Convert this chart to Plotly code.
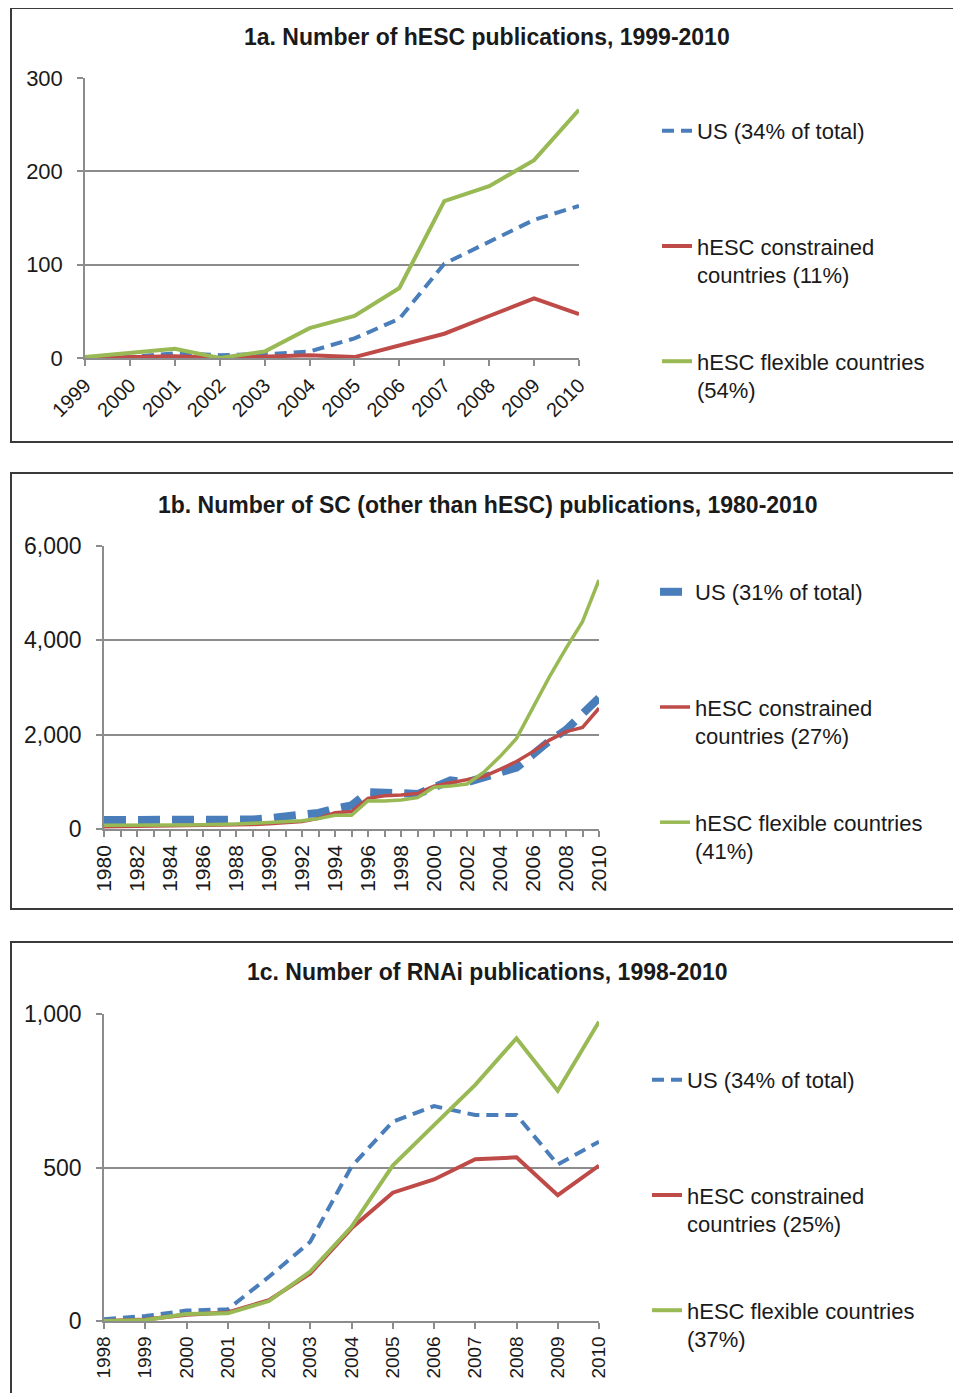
import plotly.graph_objects as go

# ---------------- data ----------------
years_a = list(range(1999, 2011))
us_a = [0, 1, 5, 3, 4, 7, 21, 42, 101, 124, 148, 163]
con_a = [0, 1, 2, 0, 1, 3, 1, 14, 26, 45, 64, 47]
flex_a = [1, 5, 10, 0, 7, 32, 45, 75, 168, 184, 212, 266]

years_b = list(range(1980, 2011))
us_b = [190, 190, 180, 180, 180, 175, 170, 170, 195, 200, 230, 260, 280, 340, 430, 500,
        780, 790, 760, 740, 870, 1030, 990, 1100, 1180, 1300, 1580, 1870, 2100, 2420, 2780]
con_b = [50, 55, 55, 60, 60, 65, 70, 75, 80, 95, 110, 130, 160, 225, 345, 370,
         650, 705, 720, 755, 910, 980, 1040, 1110, 1265, 1430, 1640, 1885, 2065, 2155, 2560]
flex_b = [80, 80, 75, 70, 75, 85, 90, 90, 105, 120, 135, 150, 175, 220, 290, 290,
          600, 595, 615, 665, 885, 910, 955, 1200, 1535, 1920, 2560, 3230, 3830, 4395, 5280]

years_c = list(range(1998, 2011))
us_c = [6, 16, 34, 38, 144, 258, 503, 649, 700, 671, 671, 510, 584]
con_c = [0, 5, 20, 28, 68, 155, 302, 418, 461, 527, 533, 410, 506]
flex_c = [0, 3, 23, 25, 65, 161, 307, 506, 638, 769, 921, 750, 975]

titles = ["1a. Number of hESC publications, 1999-2010",
          "1b. Number of SC (other than hESC) publications, 1980-2010",
          "1c. Number of RNAi publications, 1998-2010"]
names_a = ["US (34% of total)", "hESC constrained<br>countries (11%)", "hESC flexible countries<br>(54%)"]
names_b = ["US (31% of total)", "hESC constrained<br>countries (27%)", "hESC flexible countries<br>(41%)"]
names_c = ["US (34% of total)", "hESC constrained<br>countries (25%)", "hESC flexible countries<br>(37%)"]

# ---------------- style ----------------
W, H = 961, 1393
OFF = 8  # the page body margin shifts the whole figure by this many pixels
BLUE, RED, GREEN = "#4A7EBB", "#BE4B48", "#98B954"
GRID = "#8C8C8C"
FONT = "Liberation Sans, Arial, sans-serif"
TXT = "#1a1a1a"


def px(x):
    return (x - OFF) / W


def py(y):
    return 1 - (y - OFF) / H


fig = go.Figure()

panels = [
    dict(years=years_a, us=us_a, con=con_a, flex=flex_a, names=names_a, sfx="",
         us_w=4, us_dash="12px,7px", w=4),
    dict(years=years_b, us=us_b, con=con_b, flex=flex_b, names=names_b, sfx="2",
         us_w=8, us_dash="22px,12px", w=3.5),
    dict(years=years_c, us=us_c, con=con_c, flex=flex_c, names=names_c, sfx="3",
         us_w=4, us_dash="12px,7px", w=4),
]

for p in panels:
    xa = "x" + p["sfx"]
    ya = "y" + p["sfx"]
    lg = "legend" + p["sfx"]
    series = [(p["us"], p["names"][0] + "<br>\u00a0", BLUE, p["us_w"], p["us_dash"]),
              (p["con"], p["names"][1], RED, p["w"], "solid"),
              (p["flex"], p["names"][2], GREEN, p["w"], "solid")]
    for i, (vals, name, col, w, dash) in enumerate(series):
        fig.add_trace(go.Scatter(
            x=p["years"], y=vals, name=name, mode="lines",
            line=dict(color=col, width=w, dash=dash),
            xaxis=xa, yaxis=ya, legend=lg, legendgroup=lg + str(i),
        ))

axis_common = dict(showline=True, linecolor=GRID, linewidth=1.5, ticks="outside",
                   ticklen=6, tickcolor=GRID, tickwidth=1.5, zeroline=False,
                   automargin=False, tickfont=dict(family=FONT, color=TXT))
yextra = dict(showgrid=True, gridcolor=GRID, gridwidth=1.5, ticklabelstandoff=10)

fig.update_layout(
    template="none",
    width=W, height=H, margin=dict(l=0, r=0, t=0, b=0, pad=0), autosize=False,
    paper_bgcolor="white", plot_bgcolor="white",
    font=dict(family=FONT, color=TXT),
    xaxis=dict(**axis_common, domain=[px(85), px(579)], anchor="y", range=[1999, 2010],
               tickmode="linear", tick0=1999, dtick=1, tickangle=-45, showgrid=False),
    yaxis=dict(**axis_common, **yextra, domain=[py(358), py(78)], anchor="x",
               range=[0, 300], dtick=100),
    xaxis2=dict(**axis_common, domain=[px(104), px(599)], anchor="y2", range=[1980, 2010],
                tickmode="linear", tick0=1980, dtick=2, tickangle=-90, showgrid=False,
                minor=dict(dtick=1, ticks="outside", ticklen=6, tickcolor=GRID, tickwidth=1.5,
                           showgrid=False)),
    yaxis2=dict(**axis_common, **yextra, domain=[py(829), py(546)], anchor="x2",
                range=[0, 6000], dtick=2000, tickformat=",d"),
    xaxis3=dict(**axis_common, domain=[px(104), px(599)], anchor="y3", range=[1998, 2010],
                tickmode="linear", tick0=1998, dtick=1, tickangle=-90, showgrid=False),
    yaxis3=dict(**axis_common, **yextra, domain=[py(1321), py(1014)], anchor="x3",
                range=[0, 1000], dtick=500, tickformat=",d"),
)
fig.layout.xaxis.tickfont.size = 20
fig.layout.yaxis.tickfont.size = 22
fig.layout.xaxis2.tickfont.size = 21
fig.layout.yaxis2.tickfont.size = 23
fig.layout.xaxis3.tickfont.size = 19
fig.layout.yaxis3.tickfont.size = 23

legend_common = dict(xanchor="left", yanchor="top", tracegroupgap=55, valign="top",
                     bgcolor="rgba(0,0,0,0)", borderwidth=0,
                     font=dict(family=FONT, size=22, color=TXT))
fig.update_layout(
    legend=dict(**legend_common, x=px(657), y=py(110)),
    legend2=dict(**legend_common, x=px(655), y=py(571)),
    legend3=dict(**legend_common, x=px(647), y=py(1059)),
)

# panel frames
frames = [(11, 8, 957, 442), (11, 473, 960, 909), (11, 942, 958, 1402)]
for x0, y0, x1, y1 in frames:
    fig.add_shape(type="rect", xref="paper", yref="paper",
                  x0=px(x0), x1=px(x1), y0=py(y1), y1=py(y0),
                  line=dict(color="#3a3a3a", width=2), fillcolor="rgba(0,0,0,0)", layer="below")

# panel titles
for t, yc in zip(titles, [37, 505, 972]):
    fig.add_annotation(text="<b>" + t + "</b>", xref="paper", yref="paper",
                       x=px(487), y=py(yc), xanchor="center", yanchor="middle",
                       showarrow=False, font=dict(family=FONT, size=23, color=TXT))

fig.write_html("out.html")
